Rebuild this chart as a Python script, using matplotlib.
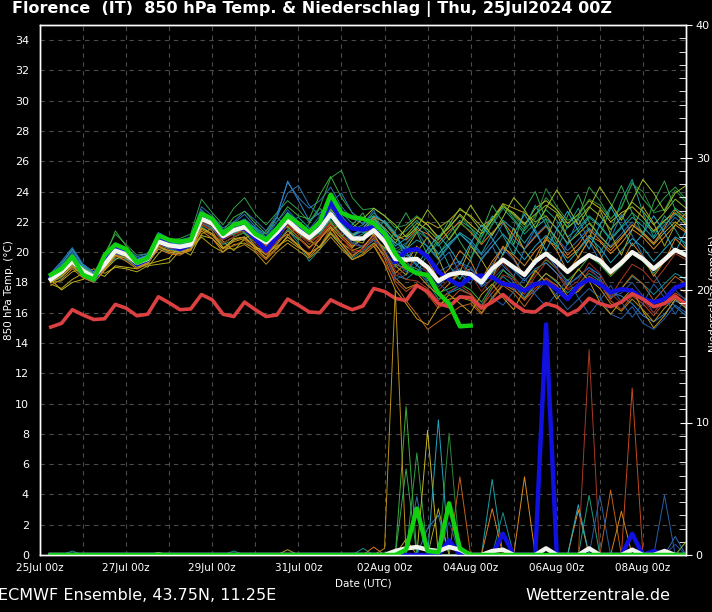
import numpy as np
import pandas as pd
import matplotlib
matplotlib.use("Agg")
import matplotlib.pyplot as plt
import matplotlib.dates as mdates
from matplotlib.ticker import MultipleLocator

# 6-hourly steps, 25Jul 06z .. 09Aug 00z
times = pd.date_range("2024-07-25 06:00", periods=60, freq="6h")

# climate (red), ensemble mean (white), main run (blue), control (green)
t_clim = [15.05, 15.3, 16.2, 15.85, 15.55, 15.6, 16.55, 16.3, 15.8, 15.9, 17.05, 16.65, 16.2, 16.25, 17.2,
          16.85, 15.9, 15.75, 16.7, 16.2, 15.75, 15.85, 16.9, 16.5, 16.05, 16.0, 16.85, 16.5, 16.2, 16.45,
          17.6, 17.4, 16.95, 16.8, 17.8, 17.4, 16.6, 16.4, 17.05, 17.0, 16.3, 16.7, 17.2, 16.6, 16.1,
          16.05, 16.6, 16.4, 15.85, 16.2, 16.95, 16.6, 16.4, 16.7, 17.25, 16.9, 16.4, 16.6, 17.1, 16.55]
t_mean = [18.2, 18.7, 19.4, 18.75, 18.35, 19.2, 20.1, 19.85, 19.3, 19.55, 20.7, 20.45, 20.35, 20.5, 22.2,
          21.9, 21.05, 21.45, 21.65, 21.1, 20.65, 21.3, 22.1, 21.45, 20.95, 21.55, 22.5, 21.6, 20.9, 20.9,
          21.45, 20.7, 19.55, 19.5, 19.55, 19.0, 18.1, 18.5, 18.65, 18.55, 18.0, 18.9, 19.5, 19.0, 18.5,
          19.4, 19.9, 19.35, 18.7, 19.3, 19.8, 19.45, 18.7, 19.3, 20.0, 19.55, 18.9, 19.5, 20.15, 19.8]
t_oper = [18.3, 18.8, 19.5, 18.6, 18.2, 19.3, 20.2, 19.9, 19.2, 19.5, 20.9, 20.5, 20.2, 20.5, 22.5,
          21.9, 21.0, 21.5, 21.6, 20.9, 20.1, 21.0, 22.2, 21.5, 21.1, 21.8, 23.3, 22.1, 21.55, 21.5,
          21.65, 21.0, 19.35, 20.1, 20.2, 19.7, 18.7, 18.2, 17.8, 18.35, 18.45, 18.35, 17.9, 17.8, 17.45,
          17.9, 18.0, 17.55, 16.9, 17.8, 18.2, 17.9, 17.35, 17.55, 17.45, 16.9, 16.7, 16.9, 17.65, 17.9]
t_ctrl = [18.5, 18.9, 19.7, 18.5, 18.2, 19.8, 20.5, 20.2, 19.3, 19.6, 21.1, 20.8, 20.7, 20.8, 22.55,
          22.2, 21.2, 21.8, 22.0, 21.2, 20.8, 21.55, 22.4, 21.9, 21.3, 22.0, 23.8, 22.6, 22.3, 22.2,
          21.9, 21.2, 19.9, 19.0, 18.6, 18.5, 17.3, 16.6, 15.1, 15.15]

# ensemble members (850 hPa temp)
members = {
    "m01": [18.6, 19.3, 20.1, 19.0, 18.4, 19.5, 20.6, 20.3, 19.6, 19.8, 21.3, 20.9, 20.8, 21.0, 23.0,
            22.4, 21.6, 22.0, 22.7, 22.1, 21.4, 22.5, 24.6, 23.6, 22.9, 23.4, 24.3, 23.0, 22.2, 21.9,
            22.3, 21.5, 20.2, 20.6, 21.4, 20.3, 19.5, 20.4, 21.2, 20.6, 19.8, 20.7, 21.9, 20.8, 20.2,
            21.1, 21.8, 20.9, 20.1, 20.8, 21.6, 21.0, 20.4, 21.2, 22.0, 21.3, 20.6, 21.5, 22.3, 21.6],
    "m02": [18.0, 18.3, 19.1, 18.4, 18.0, 18.8, 19.6, 19.5, 19.0, 19.3, 20.2, 20.0, 19.9, 20.1, 21.7,
            21.2, 20.5, 20.8, 21.0, 20.4, 19.9, 20.6, 21.5, 20.6, 19.4, 20.2, 21.3, 20.4, 19.6, 20.1,
            20.6, 19.8, 18.5, 18.2, 18.8, 18.0, 16.9, 17.3, 17.6, 17.2, 16.5, 17.6, 18.4, 17.8, 17.0,
            17.9, 18.6, 18.0, 17.3, 17.9, 18.6, 18.1, 17.0, 17.6, 18.4, 17.9, 17.2, 17.9, 18.6, 18.2],
    "m03": [18.4, 19.0, 19.8, 19.1, 18.6, 19.9, 21.2, 20.5, 19.8, 19.9, 21.0, 20.8, 20.9, 21.2, 23.5,
            22.6, 21.8, 22.9, 23.6, 22.5, 21.8, 22.6, 23.4, 22.8, 22.0, 23.0, 24.9, 25.4, 23.6, 22.8,
            22.9, 22.4, 21.6, 21.8, 22.4, 21.8, 20.9, 21.7, 22.4, 21.6, 21.0, 22.1, 23.2, 22.2, 21.4,
            22.4, 23.6, 22.8, 21.6, 22.3, 24.3, 23.4, 22.2, 22.9, 24.6, 23.5, 22.7, 23.6, 24.3, 23.5],
    "m04": [17.9, 17.6, 18.2, 18.6, 18.9, 18.6, 19.0, 18.9, 18.7, 19.1, 19.2, 19.3, 20.1, 20.2, 21.0,
            20.4, 20.0, 20.5, 20.6, 20.2, 19.9, 20.4, 20.8, 20.3, 19.9, 20.4, 21.3, 20.6, 20.1, 20.4,
            20.9, 20.3, 19.6, 20.2, 21.3, 22.0, 21.6, 22.1, 22.8, 22.4, 21.7, 22.2, 23.2, 22.9, 22.6,
            22.0, 22.4, 21.5, 20.6, 21.2, 21.9, 21.1, 20.3, 21.0, 21.8, 21.2, 20.5, 21.3, 22.0, 21.4],
    "m05": [18.1, 18.5, 19.2, 18.5, 18.2, 18.9, 19.9, 19.6, 19.1, 19.2, 20.4, 20.0, 19.9, 20.1, 21.6,
            21.2, 20.6, 21.0, 21.3, 20.4, 19.8, 20.5, 21.4, 20.9, 20.3, 20.8, 21.9, 21.1, 20.4, 20.9,
            21.6, 20.8, 19.2, 18.9, 18.6, 17.8, 17.2, 17.9, 18.6, 18.9, 18.2, 19.4, 20.3, 19.8, 19.1,
            20.1, 20.8, 20.4, 19.6, 20.2, 21.1, 20.7, 19.9, 20.6, 21.5, 21.0, 20.2, 21.0, 21.8, 21.3],
    "m06": [18.0, 18.6, 19.3, 18.7, 18.3, 19.0, 19.9, 19.7, 19.2, 19.4, 20.5, 20.2, 20.1, 20.3, 21.8,
            21.4, 20.3, 20.4, 20.8, 20.1, 19.5, 20.2, 21.0, 20.4, 19.9, 20.4, 21.6, 20.6, 19.8, 20.2,
            20.8, 19.6, 17.9, 16.8, 15.9, 14.9, 15.4, 15.9, 16.4, 16.6, 15.9, 16.9, 17.8, 17.3, 16.4,
            17.4, 18.3, 17.8, 16.9, 17.5, 18.4, 18.0, 16.9, 17.6, 18.5, 17.9, 16.8, 17.6, 18.4, 17.9],
    "m07": [18.3, 18.8, 19.5, 18.9, 18.4, 19.3, 20.2, 19.9, 19.3, 19.5, 20.6, 20.3, 20.2, 20.4, 22.0,
            21.7, 20.8, 21.2, 21.4, 20.9, 20.3, 21.0, 21.8, 21.2, 20.5, 21.2, 22.0, 21.2, 20.5, 20.4,
            21.1, 20.1, 18.8, 18.2, 18.1, 17.6, 16.8, 17.4, 17.8, 17.3, 16.4, 17.6, 18.5, 18.2, 17.2,
            18.4, 19.3, 18.6, 17.5, 17.8, 18.8, 18.3, 17.1, 18.2, 19.2, 18.8, 18.0, 18.9, 19.9, 19.5],
    "m08": [18.5, 19.0, 19.8, 19.2, 18.7, 19.6, 20.5, 20.1, 19.5, 19.7, 21.0, 20.7, 20.5, 20.7, 22.4,
            22.0, 21.3, 21.8, 22.2, 21.6, 21.2, 22.3, 24.7, 23.4, 22.1, 22.6, 23.2, 22.4, 21.6, 21.3,
            22.0, 21.2, 20.1, 19.8, 19.5, 18.9, 17.9, 18.6, 18.9, 18.4, 17.8, 18.6, 19.4, 18.8, 18.1,
            18.9, 19.3, 18.6, 17.8, 18.4, 19.0, 18.5, 17.4, 17.1, 16.6, 15.8, 15.4, 15.9, 16.8, 16.4],
    "m09": [18.2, 18.8, 19.6, 18.8, 18.3, 19.4, 20.6, 20.0, 19.4, 19.6, 20.9, 20.6, 20.4, 20.6, 22.5,
            22.0, 21.1, 21.6, 21.9, 21.3, 20.8, 21.6, 22.6, 21.9, 21.4, 22.1, 23.0, 22.2, 21.5, 21.8,
            22.6, 21.9, 21.0, 21.4, 22.1, 21.3, 20.4, 21.2, 22.1, 21.6, 20.6, 21.8, 22.9, 22.1, 21.2,
            21.9, 22.8, 22.1, 21.0, 21.6, 22.4, 21.8, 20.9, 21.7, 22.6, 22.0, 21.3, 22.0, 22.9, 22.4],
    "m10": [18.2, 17.5, 18.0, 18.2, 18.7, 18.4, 19.1, 19.0, 18.9, 19.2, 19.4, 19.6, 20.4, 20.3, 21.1,
            20.9, 20.2, 20.9, 21.0, 20.3, 20.1, 21.1, 21.7, 21.0, 20.3, 21.0, 21.7, 20.9, 20.3, 21.0,
            22.0, 21.3, 20.6, 21.6, 22.3, 21.8, 21.0, 21.6, 22.5, 21.8, 21.2, 22.1, 23.1, 22.5, 21.8,
            22.9, 23.4, 22.8, 21.9, 22.5, 23.4, 22.9, 22.0, 22.6, 23.0, 22.3, 21.4, 22.1, 22.6, 21.8],
    "m11": [18.4, 19.1, 20.0, 19.0, 18.5, 19.4, 20.3, 19.9, 19.2, 19.5, 20.8, 20.5, 20.3, 20.5, 22.3,
            21.8, 21.1, 21.7, 22.0, 21.2, 20.6, 21.4, 22.4, 21.8, 21.2, 22.0, 22.9, 21.8, 20.8, 20.3,
            20.8, 20.1, 19.0, 19.6, 20.3, 19.7, 18.7, 19.1, 19.4, 18.6, 17.7, 18.2, 18.9, 18.0, 17.0,
            17.4, 18.0, 17.1, 16.2, 16.9, 17.6, 17.0, 15.9, 15.6, 16.4, 15.3, 14.9, 15.6, 16.5, 16.0],
    "m12": [18.3, 18.9, 19.7, 19.0, 18.6, 19.6, 21.4, 20.4, 19.5, 19.7, 21.1, 20.7, 20.6, 20.8, 22.6,
            22.1, 21.4, 22.3, 22.7, 21.9, 21.2, 22.0, 23.0, 22.4, 22.2, 23.8, 25.0, 23.6, 22.6, 22.1,
            22.4, 21.1, 19.8, 19.2, 18.9, 18.3, 17.3, 17.6, 17.9, 17.5, 16.7, 17.8, 18.8, 18.3, 17.6,
            18.7, 19.5, 18.9, 18.1, 18.8, 19.7, 19.2, 18.4, 19.1, 19.9, 19.4, 18.6, 19.4, 20.2, 19.7],
    "m13": [18.1, 18.6, 19.3, 18.6, 18.2, 19.1, 20.0, 19.8, 19.3, 19.5, 20.6, 20.4, 20.3, 20.4, 22.1,
            21.6, 20.9, 21.3, 21.4, 20.8, 20.5, 21.1, 22.0, 21.4, 20.8, 21.4, 22.3, 21.5, 20.9, 21.2,
            21.9, 21.4, 20.6, 20.2, 20.8, 20.4, 19.6, 20.5, 21.3, 20.8, 19.9, 21.2, 22.1, 21.5, 20.6,
            21.6, 22.2, 21.6, 20.5, 21.4, 22.3, 21.7, 20.8, 21.6, 22.3, 21.7, 20.9, 21.8, 22.5, 22.1],
    "m14": [18.0, 18.4, 19.0, 18.5, 18.1, 18.9, 19.7, 19.6, 19.0, 19.2, 20.3, 20.1, 20.0, 20.2, 21.5,
            21.1, 20.3, 20.2, 20.5, 20.0, 19.2, 20.0, 20.6, 20.1, 19.6, 20.2, 21.0, 20.2, 19.5, 19.9,
            20.6, 19.8, 18.3, 17.6, 17.9, 17.3, 16.5, 16.9, 17.0, 16.8, 16.0, 17.0, 17.9, 17.5, 16.9,
            17.8, 18.6, 18.1, 17.1, 17.4, 18.2, 17.6, 16.6, 16.1, 16.9, 16.2, 15.4, 16.3, 17.0, 16.6],
    "m15": [18.2, 18.7, 19.4, 18.9, 18.4, 19.2, 20.2, 19.9, 19.4, 19.6, 20.7, 20.5, 20.4, 20.6, 22.0,
            21.8, 21.0, 21.3, 21.5, 21.0, 20.6, 21.2, 22.1, 21.6, 21.0, 21.5, 22.4, 21.6, 21.1, 21.6,
            22.3, 22.0, 21.1, 20.8, 21.5, 21.2, 20.6, 21.4, 22.0, 21.3, 20.5, 21.3, 22.0, 21.1, 20.2,
            21.0, 21.7, 20.9, 19.8, 20.5, 21.5, 20.8, 20.1, 20.9, 21.8, 21.3, 20.6, 21.6, 22.8, 22.2],
    "m16": [18.3, 18.8, 19.6, 18.8, 18.3, 19.3, 20.2, 19.8, 19.2, 19.5, 20.6, 20.3, 20.2, 20.3, 21.9,
            21.6, 20.6, 21.0, 21.3, 20.8, 20.4, 21.0, 21.9, 21.3, 20.7, 21.3, 22.1, 21.4, 20.6, 20.9,
            21.6, 21.0, 20.0, 20.5, 21.4, 20.9, 19.8, 20.9, 21.9, 21.4, 20.6, 21.9, 23.1, 22.4, 21.6,
            22.2, 24.2, 23.0, 22.1, 22.4, 23.5, 23.1, 22.2, 23.0, 24.5, 24.0, 22.6, 22.8, 24.1, 23.3],
    "m17": [18.1, 18.6, 19.3, 18.6, 18.2, 19.1, 20.0, 19.7, 19.2, 19.4, 20.5, 20.3, 20.1, 20.4, 21.9,
            21.5, 20.9, 21.2, 21.4, 21.0, 20.4, 21.1, 21.9, 21.2, 20.7, 21.1, 21.9, 21.0, 20.2, 20.0,
            20.5, 19.3, 18.1, 17.4, 17.9, 17.2, 16.3, 16.8, 17.5, 17.2, 16.4, 17.3, 18.1, 17.6, 16.8,
            17.6, 18.2, 17.7, 17.0, 17.6, 18.3, 17.9, 16.8, 16.2, 17.1, 16.6, 15.8, 16.7, 17.3, 16.9],
    "m18": [18.5, 19.2, 20.2, 19.1, 18.5, 19.5, 20.4, 20.0, 19.4, 19.7, 20.9, 20.6, 20.5, 20.7, 22.4,
            22.0, 21.4, 21.9, 22.1, 21.5, 20.9, 21.7, 22.6, 21.8, 21.1, 21.8, 22.7, 21.9, 21.2, 21.5,
            22.1, 21.5, 20.4, 20.9, 21.7, 20.9, 19.9, 20.6, 21.2, 20.5, 19.5, 20.4, 21.2, 20.4, 19.5,
            20.4, 21.1, 20.5, 19.3, 20.1, 21.0, 20.3, 19.3, 20.1, 20.9, 20.3, 19.4, 20.2, 21.0, 20.6],
    "m19": [18.2, 18.7, 19.5, 18.8, 18.4, 19.2, 20.1, 19.8, 19.3, 19.6, 20.8, 20.4, 20.3, 20.5, 22.1,
            21.8, 21.0, 21.5, 21.8, 21.2, 20.7, 21.4, 22.3, 21.7, 21.1, 21.8, 22.6, 21.8, 21.1, 21.4,
            22.2, 21.6, 20.8, 21.1, 21.9, 21.5, 20.8, 21.8, 22.9, 22.3, 21.4, 22.2, 23.0, 22.6, 21.9,
            22.5, 23.1, 22.6, 21.6, 22.2, 23.0, 22.4, 21.5, 22.3, 23.3, 22.7, 21.8, 22.6, 23.5, 22.9],
    "m20": [18.3, 18.9, 19.6, 18.7, 18.3, 19.2, 20.1, 19.8, 19.3, 19.5, 20.8, 20.5, 20.3, 20.5, 22.1,
            21.7, 21.0, 21.4, 21.6, 21.0, 20.5, 21.3, 22.3, 21.5, 20.8, 21.5, 22.3, 21.4, 20.6, 20.3,
            21.0, 19.9, 18.2, 18.5, 19.1, 18.7, 17.7, 18.5, 19.3, 19.0, 18.1, 19.2, 20.2, 19.5, 18.4,
            19.2, 19.8, 19.0, 17.9, 18.3, 19.0, 18.2, 17.0, 17.3, 18.0, 17.1, 16.0, 16.9, 17.5, 16.8],
    "m21": [18.4, 19.0, 19.9, 18.9, 18.3, 19.0, 20.0, 20.1, 19.5, 19.4, 20.5, 20.6, 20.6, 20.4, 21.9,
            22.3, 21.5, 21.1, 21.9, 21.6, 20.9, 21.0, 22.0, 22.3, 21.6, 21.2, 22.2, 22.6, 21.9, 21.3,
            21.2, 22.1, 21.3, 19.4, 18.6, 19.9, 20.6, 19.1, 18.2, 19.5, 21.0, 22.4, 21.1, 19.8, 21.6,
            23.1, 21.8, 20.2, 21.7, 22.9, 21.4, 19.9, 21.3, 23.4, 24.8, 22.6, 21.0, 22.4, 21.5, 20.3],
    "m22": [18.1, 18.5, 19.3, 18.8, 18.6, 19.5, 20.3, 19.7, 19.1, 19.8, 20.9, 20.2, 20.0, 20.9, 22.6,
            21.5, 20.9, 22.0, 21.2, 20.6, 21.4, 22.3, 21.6, 20.8, 21.9, 22.9, 22.0, 21.0, 21.8, 22.6,
            21.0, 20.2, 21.4, 22.6, 21.3, 19.8, 20.9, 22.1, 20.7, 19.6, 21.3, 23.1, 22.0, 20.5, 22.8,
            24.0, 22.1, 20.6, 22.4, 23.8, 22.0, 21.1, 22.9, 24.4, 22.6, 21.2, 23.3, 24.7, 22.8, 21.9],
    "m23": [18.0, 18.1, 18.7, 18.9, 18.6, 18.8, 19.5, 19.9, 19.4, 19.0, 19.9, 20.5, 20.2, 19.8, 21.2,
            21.6, 20.7, 20.1, 20.9, 21.3, 20.6, 20.2, 21.1, 21.7, 20.8, 20.3, 21.4, 21.9, 20.8, 20.6,
            22.0, 21.1, 19.1, 18.5, 20.0, 21.0, 19.6, 18.0, 18.7, 20.4, 19.5, 18.3, 19.9, 21.6, 20.1,
            19.2, 20.8, 22.5, 21.0, 19.6, 20.9, 22.8, 21.2, 19.8, 21.5, 23.0, 21.9, 20.4, 21.8, 22.6],
    "m24": [18.6, 19.4, 20.3, 19.2, 18.6, 19.6, 20.5, 20.2, 19.7, 19.9, 21.2, 20.7, 20.4, 20.9, 22.8,
            22.1, 21.2, 21.9, 22.5, 21.7, 21.0, 22.3, 23.9, 24.4, 23.1, 22.4, 23.3, 23.9, 22.6, 21.8,
            22.8, 21.0, 19.8, 20.4, 19.2, 18.1, 19.3, 20.0, 18.6, 17.9, 19.6, 20.4, 19.1, 18.4, 20.2,
            21.5, 20.0, 18.9, 20.6, 22.2, 20.7, 19.4, 20.9, 22.5, 21.1, 19.8, 18.6, 17.4, 16.4, 15.8],
    "m25": [17.8, 18.2, 18.9, 18.3, 18.0, 18.8, 19.8, 19.4, 18.9, 19.3, 20.2, 19.9, 19.8, 20.2, 21.4,
            20.9, 20.0, 20.8, 21.0, 20.3, 19.6, 20.7, 21.2, 20.4, 19.8, 20.9, 21.6, 20.6, 19.7, 20.3,
            21.2, 20.0, 18.6, 19.3, 20.4, 19.5, 18.2, 18.9, 20.1, 19.4, 18.0, 19.0, 20.4, 19.6, 18.4,
            19.6, 21.0, 20.1, 18.7, 19.7, 20.8, 19.9, 18.5, 19.3, 20.6, 19.7, 18.4, 19.4, 20.9, 20.2],
    "m26": [18.2, 18.8, 19.5, 18.6, 18.3, 19.1, 19.9, 19.6, 19.1, 19.6, 20.6, 20.2, 20.1, 20.6, 22.0,
            21.5, 21.0, 21.8, 22.0, 21.2, 20.9, 22.0, 22.8, 22.0, 21.5, 22.4, 22.8, 21.7, 21.0, 21.4,
            21.8, 20.8, 19.4, 18.7, 19.5, 19.0, 18.0, 17.3, 17.8, 18.9, 18.2, 17.0, 16.5, 17.4, 18.3,
            17.2, 16.4, 17.3, 18.2, 17.0, 15.9, 16.8, 17.8, 16.7, 15.7, 16.6, 17.9, 17.0, 15.9, 17.0],
    "m27": [18.3, 18.7, 19.4, 18.8, 18.4, 19.2, 20.1, 19.8, 19.3, 19.4, 20.6, 20.4, 20.4, 20.4, 22.0,
            21.7, 20.6, 21.0, 21.5, 20.6, 19.9, 20.7, 21.8, 21.0, 20.2, 21.0, 21.8, 21.0, 20.0, 20.2,
            21.0, 19.9, 18.4, 18.9, 19.6, 18.6, 17.5, 18.2, 19.2, 18.5, 17.4, 18.3, 19.3, 18.4, 17.4,
            18.6, 19.6, 18.9, 17.6, 18.1, 19.3, 18.6, 17.3, 16.6, 17.3, 16.8, 16.0, 16.9, 17.8, 17.3],
    "m28": [18.2, 18.6, 19.3, 18.7, 18.3, 19.3, 20.3, 19.9, 19.4, 19.6, 20.8, 20.4, 20.3, 20.6, 22.1,
            21.9, 21.0, 21.5, 21.8, 21.3, 20.8, 21.6, 22.4, 21.8, 21.2, 21.9, 22.8, 22.1, 21.6, 22.2,
            22.9, 22.4, 21.8, 21.0, 21.6, 22.8, 21.9, 20.8, 21.8, 23.1, 22.0, 21.1, 22.3, 23.6, 22.8,
            21.6, 22.9, 24.1, 23.0, 21.8, 22.9, 24.3, 23.2, 22.1, 23.4, 24.8, 23.9, 22.7, 23.9, 24.4],
    "m29": [18.4, 19.0, 19.7, 18.9, 18.5, 19.3, 20.3, 20.0, 19.5, 19.8, 20.8, 20.5, 20.4, 20.7, 22.2,
            21.8, 21.0, 21.3, 21.7, 21.4, 20.7, 21.4, 22.6, 22.0, 21.1, 21.7, 22.5, 21.9, 21.0, 21.6,
            22.4, 22.0, 21.2, 20.0, 19.1, 20.2, 21.1, 20.3, 19.2, 20.6, 21.8, 20.9, 19.8, 21.2, 22.5,
            21.3, 20.1, 21.5, 22.7, 21.4, 20.2, 21.8, 23.0, 21.7, 20.4, 21.2, 22.4, 21.3, 20.0, 21.4],
    "m30": [18.0, 18.4, 19.1, 18.5, 18.2, 19.0, 19.8, 19.6, 19.1, 19.3, 20.4, 20.1, 20.0, 20.2, 21.6,
            21.2, 20.3, 20.7, 20.9, 20.3, 19.6, 20.3, 21.0, 20.5, 19.7, 20.4, 21.2, 20.4, 19.5, 19.8,
            20.4, 19.2, 17.5, 16.6, 15.6, 15.2, 16.4, 17.2, 16.6, 16.0, 17.2, 17.9, 17.0, 16.2, 17.6,
            18.8, 18.0, 16.9, 17.8, 18.9, 18.1, 16.7, 15.9, 16.8, 17.6, 16.1, 15.0, 15.8, 16.9, 16.3],
}
member_colors = {
    "m01": "#2f6fb0", "m02": "#168f8f", "m03": "#2e9e48", "m04": "#b5a91c", "m05": "#de8a1e",
    "m06": "#c0621a", "m07": "#a83a22", "m08": "#2c86d1", "m09": "#1f9e7a", "m10": "#c9b81d",
    "m11": "#2a5fa8", "m12": "#3aae3a", "m13": "#1aa0a8", "m14": "#b8901a", "m15": "#e07a20",
    "m16": "#2a8a3a", "m17": "#c44a1e", "m18": "#20a6c0", "m19": "#8cba2a", "m20": "#2a52a0",
    "m21": "#18a090", "m22": "#34a853", "m23": "#a9a61e", "m24": "#2878b8", "m25": "#d88420",
    "m26": "#2060b0", "m27": "#8e2a1c", "m28": "#9ec020", "m29": "#2aa8c8", "m30": "#c49a18",
}

# precipitation (mm / 6h), only steps with rain, everything else is 0
precip_members = {
    "m01": [(34, 4.4), (58, 1.4)],
    "m02": [(2, 0.3), (17, 0.3), (29, 0.5), (42, 3.2)],
    "m03": [(34, 7.7)],
    "m04": [(22, 0.4), (33, 1.2)],
    "m05": [(44, 5.9), (49, 3.4)],
    "m06": [(38, 5.9), (52, 4.9)],
    "m07": [(50, 15.5)],
    "m08": [(35, 2.0), (36, 3.0)],
    "m09": [(50, 4.5)],
    "m10": [(35, 9.4)],
    "m11": [(51, 4.5), (57, 4.5)],
    "m12": [(33, 11.2)],
    "m13": [(41, 5.7)],
    "m14": [(31, 0.5), (32, 20.0)],
    "m15": [(30, 0.6), (41, 3.5)],
    "m16": [(37, 9.2)],
    "m17": [(54, 12.6)],
    "m18": [(36, 10.2)],
    "m19": [(10, 0.2), (59, 1.0)],
    "m20": [(37, 2.5), (58, 0.8)],
    "m22": [(33, 6.5)],
    "m23": [(36, 3.5)],
    "m25": [(53, 3.3)],
    "m29": [(49, 3.8)],
}
precip_oper = [(37, 1.1), (42, 1.6), (46, 17.4), (54, 1.6), (56, 0.3)]
precip_mean = [(32, 0.3), (33, 0.5), (34, 0.6), (35, 0.4), (36, 0.3), (37, 0.6), (38, 0.4),
               (41, 0.3), (42, 0.4), (46, 0.5), (50, 0.5), (54, 0.4), (57, 0.3)]
precip_ctrl = [(33, 0.4), (34, 3.5), (35, 0.3), (36, 0.2), (37, 3.9), (38, 0.5)]

def to_series(spikes):
    p = np.zeros(len(times))
    for i, v in spikes:
        p[i] = v
    return p

bg = "black"
fig = plt.figure(figsize=(7.12, 6.12), dpi=100, facecolor=bg)
ax = fig.add_axes([40 / 712, 57 / 612, 646 / 712, 530 / 612], facecolor=bg)
ax2 = ax.twinx()
ax2.patch.set_visible(False)

# temperatures
for name, vals in members.items():
    ax.plot(times, vals, color=member_colors[name], lw=0.7, zorder=2)
ax.plot(times, t_oper, color="#1010e0", lw=3.2, zorder=3)
ax.plot(times, t_clim, color="#dc4040", lw=2.6, zorder=4)
ax.plot(times, t_mean, color="#f4f4ee", lw=3.2, zorder=5)
ax.plot(times[:len(t_ctrl)], t_ctrl, color="#10d010", lw=3.2, zorder=6)

# precipitation on right axis
for name in members:
    ax2.plot(times, to_series(precip_members.get(name, [])), color=member_colors[name], lw=0.7)
ax2.plot(times, to_series(precip_oper), color="#1010e0", lw=3.2)
ax2.plot(times, to_series(precip_mean), color="#f4f4ee", lw=3.2)
ax2.plot(times, to_series(precip_ctrl), color="#10d010", lw=3.2)

ax.set_xlim(pd.Timestamp("2024-07-25 00:00"), pd.Timestamp("2024-08-09 00:00"))
ax.set_ylim(0, 35)
ax2.set_ylim(0, 40)

ax.set_xticks(pd.date_range("2024-07-25", "2024-08-08", freq="2D"))
ax.set_xticks(pd.date_range("2024-07-25", "2024-08-09", freq="D"), minor=True)
ax.xaxis.set_major_formatter(mdates.DateFormatter("%d%b %Hz"))
ax.yaxis.set_major_locator(MultipleLocator(2))
ax2.yaxis.set_major_locator(MultipleLocator(10))
ax2.yaxis.set_minor_locator(MultipleLocator(1))

ax.grid(True, which="both", axis="x", color="#4a4a4a", ls=(0, (4, 4)), lw=0.8)
ax.grid(True, which="major", axis="y", color="#4a4a4a", ls=(0, (4, 4)), lw=0.8)

for a in (ax, ax2):
    for s in a.spines.values():
        s.set_color("white")
        s.set_linewidth(1.0)
ax.tick_params(axis="x", which="both", length=0, colors="white", labelsize=7.5, pad=6)
ax.tick_params(axis="y", length=0, colors="white", labelsize=8, pad=8)
ax2.tick_params(axis="y", which="major", direction="inout", length=8, colors="white", labelsize=8, pad=3)
ax2.tick_params(axis="y", which="minor", direction="in", length=5, colors="white")

ax.set_xlabel("Date (UTC)", color="white", fontsize=7.5, labelpad=4)
ax.set_ylabel("850 hPa Temp. (°C)", color="white", fontsize=7.5)
ax.yaxis.set_label_coords(-0.041, 0.5)
fig.text(0.996, 0.52, "Niederschlag (mm/6h)", rotation=90, ha="left", va="center",
         color="white", fontsize=7.5)

fig.text(12 / 712, 1 - 9 / 612, "Florence  (IT)  850 hPa Temp. & Niederschlag | Thu, 25Jul2024 00Z",
         color="white", fontsize=11.5, fontweight="bold", ha="left", va="center")
fig.text(-2 / 712, 1 - 595 / 612, "ECMWF Ensemble, 43.75N, 11.25E", color="white",
         fontsize=11.5, ha="left", va="center")
fig.text(670 / 712, 1 - 595 / 612, "Wetterzentrale.de", color="white",
         fontsize=11.5, ha="right", va="center")

fig.savefig("out.png", dpi=100, facecolor=bg)
